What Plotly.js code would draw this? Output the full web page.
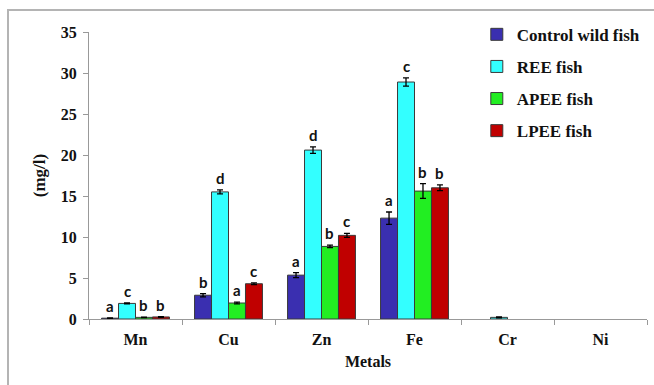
<!DOCTYPE html>
<html><head><meta charset="utf-8">
<script src="https://cdn.plot.ly/plotly-3.0.1.min.js"></script>
<style>
html,body{margin:0;padding:0;background:#fff;overflow:hidden}
#chart{width:654px;height:385px}
#frame{position:absolute;left:7px;top:9px;width:700px;height:500px;border-left:2px solid #b4b4b4;border-top:2px solid #b4b4b4;pointer-events:none}
</style>
</head><body><div id="chart"></div><div id="frame"></div>
<script>
const metals = ['Mn', 'Cu', 'Zn', 'Fe', 'Cr', 'Ni'];
const seriesNames = ['Control wild fish', 'REE fish', 'APEE fish', 'LPEE fish'];
const seriesColors = ['#3a2fb0', '#33ffff', '#22ee22', '#c00000'];

const controlWild = [0.1, 2.9, 5.35, 12.3, 0, 0];
const controlWildErr = [0.02, 0.2, 0.3, 0.75, 0, 0];
const controlWildLetters = ['a', 'b', 'a', 'a', '', ''];

const reeFish = [1.9, 15.5, 20.6, 28.9, 0.2, 0];
const reeFishErr = [0.05, 0.25, 0.4, 0.5, 0.05, 0];
const reeFishLetters = ['c', 'd', 'd', 'c', '', ''];

const apeeFish = [0.2, 1.95, 8.85, 15.6, 0, 0];
const apeeFishErr = [0.02, 0.1, 0.15, 0.9, 0, 0];
const apeeFishLetters = ['b', 'a', 'b', 'b', '', ''];

const lpeeFish = [0.25, 4.3, 10.2, 16.0, 0, 0];
const lpeeFishErr = [0.05, 0.1, 0.25, 0.35, 0, 0];
const lpeeFishLetters = ['b', 'c', 'c', 'b', '', ''];

const yTicks = [0, 5, 10, 15, 20, 25, 30, 35];

const values = [controlWild, reeFish, apeeFish, lpeeFish];
const errors = [controlWildErr, reeFishErr, apeeFishErr, lpeeFishErr];
const letters = [controlWildLetters, reeFishLetters, apeeFishLetters, lpeeFishLetters];

const bargap = 0.27;
const serif = 'Liberation Serif, Times New Roman, serif';

const traces = values.map((v, i) => ({
  type: 'bar',
  name: seriesNames[i],
  legendgroup: 'g' + i,
  x: metals,
  y: v,
  marker: {
    color: seriesColors[i],
    line: {color: '#3a3a3a', width: v.map(val => (val > 0 ? 1 : 0))}
  },
  error_y: {
    type: 'data',
    array: errors[i].map((e, j) => (v[j] > 0 ? e : NaN)),
    visible: true, color: '#000', thickness: 1.3, width: 3
  }
}));

const nS = values.length;
const barW = (1 - bargap) / nS;
const annotations = [];
values.forEach((v, i) => {
  v.forEach((val, j) => {
    if (!letters[i][j]) return;
    annotations.push({
      xref: 'x', yref: 'y',
      x: j + (i - (nS - 1) / 2) * barW,
      y: val + errors[i][j],
      yanchor: 'bottom', xanchor: 'center',
      yshift: 1,
      text: letters[i][j],
      showarrow: false,
      font: {family: 'Lato, Liberation Sans, sans-serif', size: 15, color: '#111', weight: 'bold'}
    });
  });
});

const layout = {
  width: 654, height: 385,
  margin: {l: 89, r: 7, t: 32, b: 66},
  paper_bgcolor: '#fff', plot_bgcolor: '#fff',
  barmode: 'group', bargap: bargap, bargroupgap: 0,
  showlegend: true,
  legend: {
    x: 0.695, y: 1.053, xanchor: 'left', yanchor: 'top',
    font: {family: serif, size: 17, color: '#111', weight: 'bold'},
    tracegroupgap: 7, bgcolor: 'rgba(0,0,0,0)'
  },
  xaxis: {
    type: 'category',
    tickson: 'boundaries', ticks: 'outside', ticklen: 5, tickcolor: '#999',
    showline: true, linecolor: '#999', linewidth: 1,
    showgrid: false, zeroline: false,
    ticklabelstandoff: 6,
    tickfont: {family: serif, size: 16, color: '#111', weight: 'bold'},
    title: {text: 'Metals', font: {family: serif, size: 16, color: '#111', weight: 'bold'}, standoff: 8}
  },
  yaxis: {
    range: [0, 35], tickvals: yTicks, ticks: 'outside', ticklen: 5, tickcolor: '#999',
    showline: true, linecolor: '#999', linewidth: 1,
    showgrid: false, zeroline: false,
    ticklabelstandoff: 3,
    tickfont: {family: serif, size: 16, color: '#111', weight: 'bold'},
    title: {text: '(mg/l)', font: {family: serif, size: 17, color: '#111', weight: 'bold'}, standoff: 10}
  },
  annotations: annotations
};

Plotly.newPlot('chart', traces, layout, {displayModeBar: false, staticPlot: true});
</script>
</body></html>
